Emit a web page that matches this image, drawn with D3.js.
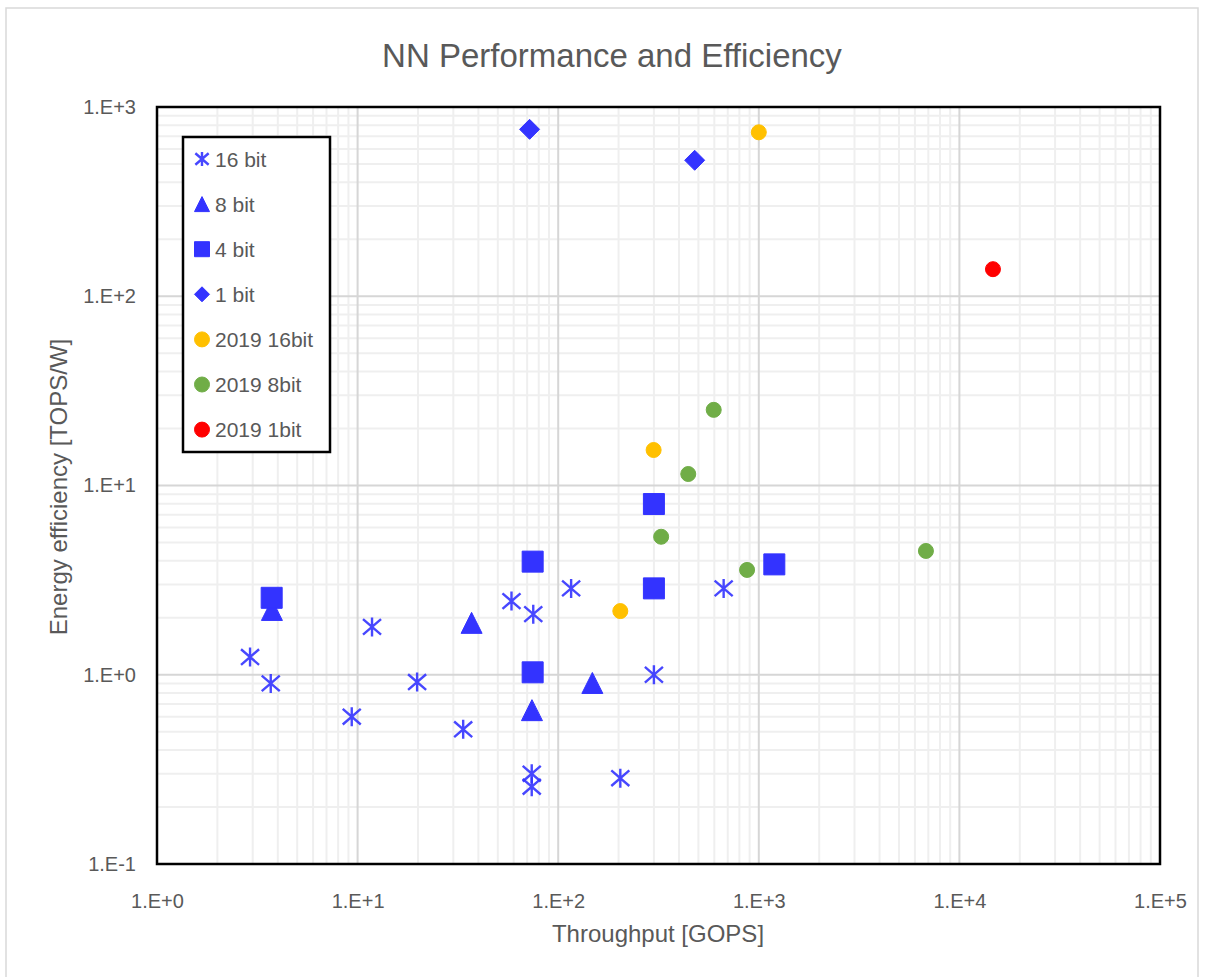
<!DOCTYPE html>
<html>
<head>
<meta charset="utf-8">
<script src="https://cdn.jsdelivr.net/npm/d3@7"></script>
<style>
  html, body { margin: 0; padding: 0; background: #fff; }
  svg { display: block; }
  text { font-family: "Liberation Sans", Arial, sans-serif; fill: #595959; }
</style>
</head>
<body>
<svg id="chart" width="1207" height="977"></svg>
<script>
// Throughput [GOPS] vs energy efficiency [TOPS/W], one [x, y] pair per design
const bit16 = [[2.91, 1.24], [3.69, 0.90], [9.35, 0.60], [11.8, 1.79], [19.8, 0.915],
               [33.6, 0.515], [58.5, 2.45], [75.1, 2.09], [73.8, 0.30], [73.8, 0.256],
               [116, 2.86], [204, 0.284], [300, 1.0], [668, 2.86]];
const bit8 = [[3.74, 2.2], [37, 1.88], [74, 0.65], [148, 0.905]];
const bit4 = [[3.73, 2.55], [74.6, 3.96], [74.6, 1.03], [300, 7.98], [300, 2.86], [1195, 3.83]];
const bit1 = [[72, 762], [479, 523]];
const y2019bit16 = [[1000, 735], [299, 15.4], [204, 2.17]];
const y2019bit8 = [[596, 25.1], [445, 11.5], [326, 5.36], [874, 3.58], [6810, 4.51]];
const y2019bit1 = [[14700, 139]];

const seriesNames = ["16 bit", "8 bit", "4 bit", "1 bit", "2019 16bit", "2019 8bit", "2019 1bit"];
const xTicks = [1e0, 1e1, 1e2, 1e3, 1e4, 1e5];
const yTicks = [1e-1, 1e0, 1e1, 1e2, 1e3];

const series = [
  { name: seriesNames[0], data: bit16, shape: "star", color: "#3333ff" },
  { name: seriesNames[1], data: bit8, shape: "triangle", color: "#3333ff" },
  { name: seriesNames[2], data: bit4, shape: "square", color: "#3333ff" },
  { name: seriesNames[3], data: bit1, shape: "diamond", color: "#3333ff" },
  { name: seriesNames[4], data: y2019bit16, shape: "circle", color: "#ffc000" },
  { name: seriesNames[5], data: y2019bit8, shape: "circle", color: "#70ad47" },
  { name: seriesNames[6], data: y2019bit1, shape: "circle", color: "#ff0000" }
];

const svg = d3.select("#chart");
const plot = { left: 157, right: 1160, top: 107, bottom: 864 };

const x = d3.scaleLog().domain([1e0, 1e5]).range([plot.left, plot.right]);
const y = d3.scaleLog().domain([1e-1, 1e3]).range([plot.bottom, plot.top]);

const fmt = v => "1.E" + (Math.log10(v) >= 0 ? "+" : "") + Math.round(Math.log10(v));

// outer chart frame
svg.append("rect")
  .attr("x", 6).attr("y", 8).attr("width", 1192).attr("height", 980)
  .attr("fill", "#fff").attr("stroke", "#d9d9d9").attr("stroke-width", 1.5);

// minor grid values 2..9 in each decade
function minors(lo, hi) {
  const out = [];
  for (let e = lo; e < hi; e++) for (let m = 2; m <= 9; m++) out.push(m * Math.pow(10, e));
  return out;
}

const grid = svg.append("g");
grid.selectAll("line.vminor").data(minors(0, 5)).join("line")
  .attr("x1", d => x(d)).attr("x2", d => x(d))
  .attr("y1", plot.top).attr("y2", plot.bottom)
  .attr("stroke", "#efefef").attr("stroke-width", 2);
grid.selectAll("line.hminor").data(minors(-1, 3)).join("line")
  .attr("y1", d => y(d)).attr("y2", d => y(d))
  .attr("x1", plot.left).attr("x2", plot.right)
  .attr("stroke", "#efefef").attr("stroke-width", 2);
grid.selectAll("line.vmajor").data(xTicks).join("line")
  .attr("x1", d => x(d)).attr("x2", d => x(d))
  .attr("y1", plot.top).attr("y2", plot.bottom)
  .attr("stroke", "#d6d6d6").attr("stroke-width", 2);
grid.selectAll("line.hmajor").data(yTicks).join("line")
  .attr("y1", d => y(d)).attr("y2", d => y(d))
  .attr("x1", plot.left).attr("x2", plot.right)
  .attr("stroke", "#d6d6d6").attr("stroke-width", 2);

// axes (labels only; the frame is drawn as a rectangle)
const xAxis = svg.append("g")
  .attr("transform", `translate(0,${plot.bottom})`)
  .call(d3.axisBottom(x).tickValues(xTicks).tickFormat(fmt).tickSize(0).tickPadding(30));
const yAxis = svg.append("g")
  .attr("transform", `translate(${plot.left},0)`)
  .call(d3.axisLeft(y).tickValues(yTicks).tickFormat(fmt).tickSize(0).tickPadding(21));
[xAxis, yAxis].forEach(a => {
  a.select(".domain").remove();
  a.selectAll("text").attr("font-size", 20).attr("fill", "#595959")
    .attr("font-family", "Liberation Sans, Arial, sans-serif");
});

svg.append("rect")
  .attr("x", plot.left).attr("y", plot.top)
  .attr("width", plot.right - plot.left).attr("height", plot.bottom - plot.top)
  .attr("fill", "none").attr("stroke", "#000").attr("stroke-width", 2.5);

// marker path generators, centred on their bounding box
function markerPath(shape, s) {
  const h = s / 2;
  switch (shape) {
    case "square": return `M${-h},${-h}H${h}V${h}H${-h}Z`;
    case "triangle": return `M0,${-h}L${h},${h}L${-h},${h}Z`;
    case "diamond": return `M0,${-h}L${h},0L0,${h}L${-h},0Z`;
    case "circle": return `M${h},0A${h},${h} 0 1,1 ${-h},0A${h},${h} 0 1,1 ${h},0Z`;
    case "star": {
      const a = h * 0.95, b = h * 0.82;
      return `M0,${-h}V${h}M${-a},${-b}L${a},${b}M${-a},${b}L${a},${-b}`;
    }
  }
}
const markerSize = { square: 21, triangle: 21, diamond: 20, circle: 15, star: 19 };

function drawMarker(sel, shape, color, size) {
  const p = sel.append("path").attr("d", markerPath(shape, size));
  if (shape === "star") {
    p.attr("fill", "none").attr("stroke", color).attr("stroke-width", 2.4)
      .attr("stroke-opacity", 0.9);
  } else {
    p.attr("fill", color).attr("stroke", color).attr("stroke-width", 1);
  }
  return p;
}

const marks = svg.append("g");
series.forEach(s => {
  const g = marks.append("g");
  s.data.forEach(([vx, vy]) => {
    const m = g.append("g").attr("transform", `translate(${x(vx)},${y(vy)})`);
    drawMarker(m, s.shape, s.color, markerSize[s.shape]);
  });
});

// legend
const legend = svg.append("g");
legend.append("rect")
  .attr("x", 183).attr("y", 137).attr("width", 147).attr("height", 315)
  .attr("fill", "#fff").attr("stroke", "#000").attr("stroke-width", 2.5);
const legendSize = { square: 15, triangle: 15, diamond: 15, circle: 15, star: 14 };
series.forEach((s, i) => {
  const cy = 159 + i * 45.1;
  const m = legend.append("g").attr("transform", `translate(202,${cy})`);
  drawMarker(m, s.shape, s.color, legendSize[s.shape]);
  legend.append("text")
    .attr("x", 215).attr("y", cy).attr("dy", "0.36em")
    .attr("font-size", 21).text(s.name);
});

// titles
svg.append("text")
  .attr("x", 612).attr("y", 67).attr("text-anchor", "middle")
  .attr("font-size", 33).text("NN Performance and Efficiency");
svg.append("text")
  .attr("x", 658).attr("y", 942).attr("text-anchor", "middle")
  .attr("font-size", 24).text("Throughput [GOPS]");
svg.append("text")
  .attr("transform", "translate(67,487) rotate(-90)").attr("text-anchor", "middle")
  .attr("font-size", 24).text("Energy efficiency [TOPS/W]");
</script>
</body>
</html>
